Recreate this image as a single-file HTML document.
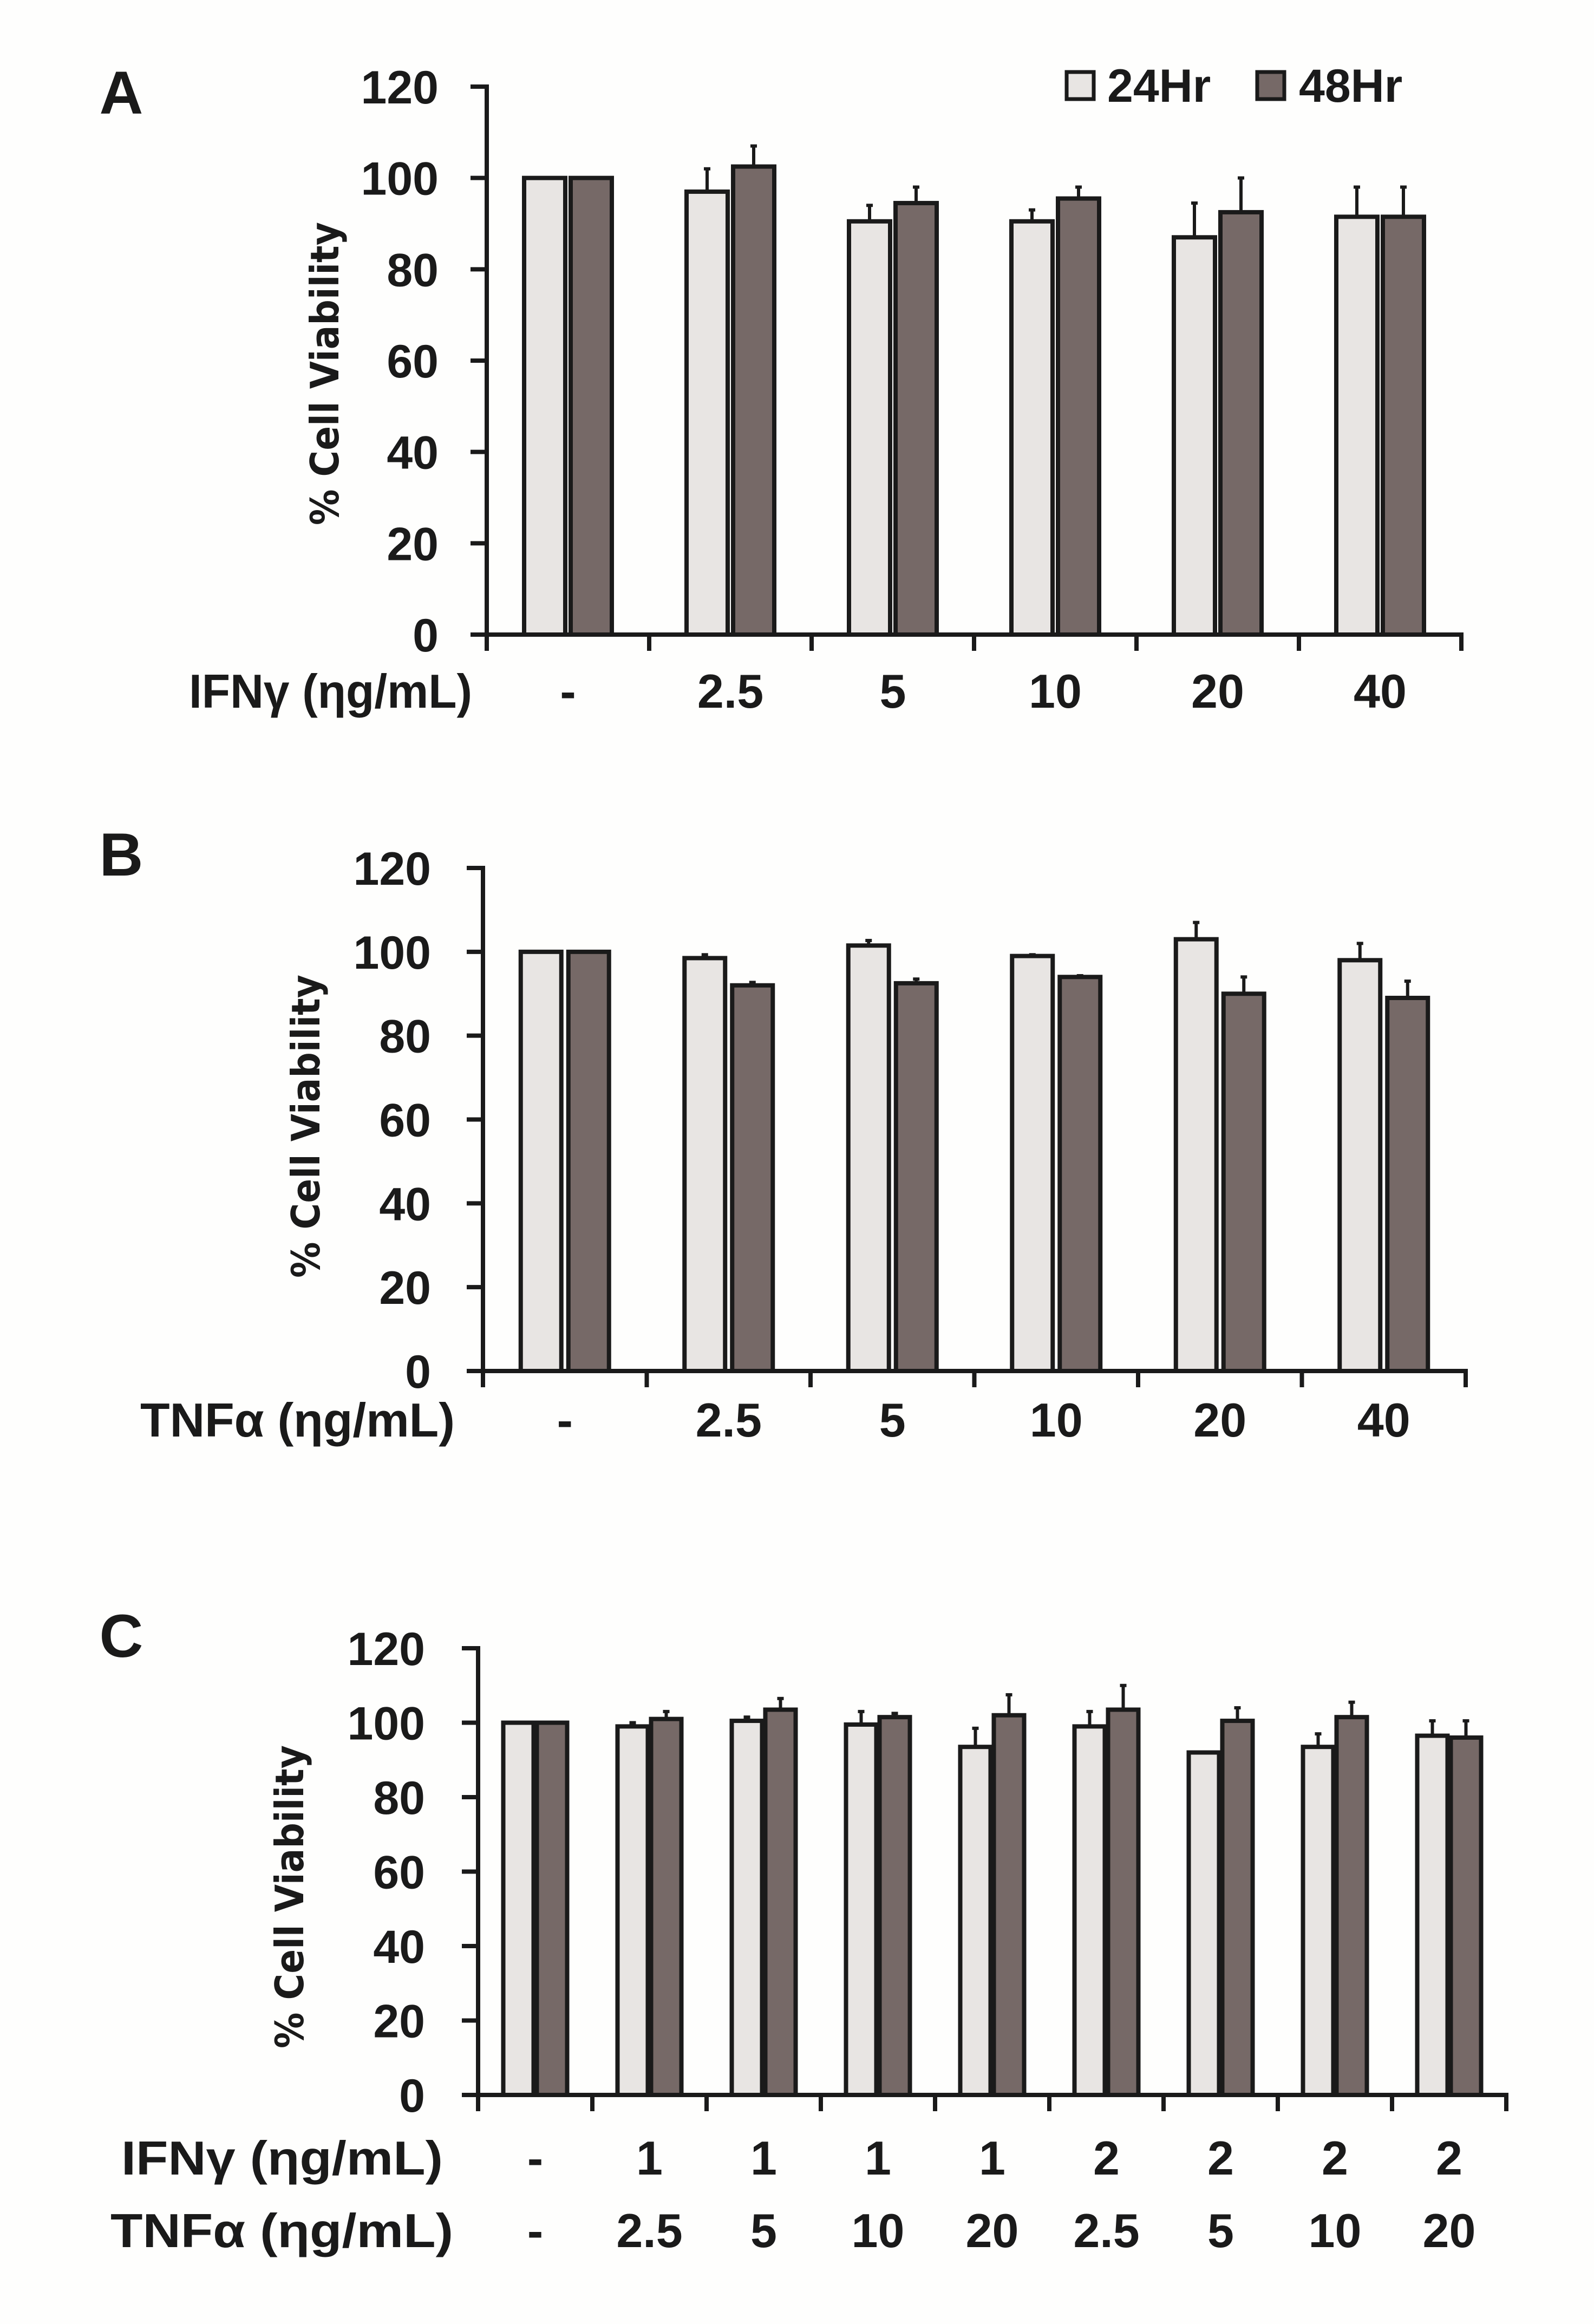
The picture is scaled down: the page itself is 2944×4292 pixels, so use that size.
<!DOCTYPE html>
<html><head><meta charset="utf-8">
<style>
html,body{margin:0;padding:0;background:#fefefd;}
svg{display:block;}
text{font-family:"Liberation Sans",sans-serif;font-weight:bold;fill:#1a1a1a;}
.yt{font-family:"DejaVu Sans","Liberation Sans",sans-serif;}
</style></head>
<body>
<svg id="fig" width="2944" height="4292" viewBox="0 0 2944 4292" xmlns="http://www.w3.org/2000/svg">
<rect x="0" y="0" width="2944" height="4292" fill="#fefefd"/>
</svg>
<script>
// Panel A data
const catsA = ["-","2.5","5","10","20","40"];
const a24 = [100,97,90.5,90.5,87,91.5];
const a24err = [0,5,3.5,2.5,7.5,6.5];
const a48 = [100,102.5,94.5,95.5,92.5,91.5];
const a48err = [0,4.5,3.5,2.5,7.5,6.5];
// Panel B data
const catsB = ["-","2.5","5","10","20","40"];
const b24 = [100,98.5,101.5,99,103,98];
const b24err = [0,0.8,1.2,0.3,4,4];
const b48 = [100,92,92.5,94,90,89];
const b48err = [0,0.7,1,0.3,4,4];
// Panel C data
const catsCifn = ["-","1","1","1","1","2","2","2","2"];
const catsCtnf = ["-","2.5","5","10","20","2.5","5","10","20"];
const c24 = [100,99,100.5,99.5,93.5,99,92,93.5,96.5];
const c24err = [0,1,1,3.5,5,4,0,3.5,4];
const c48 = [100,101,103.5,101.5,102,103.5,100.5,101.5,96];
const c48err = [0,2,3,1,5.5,6.5,3.5,4,4.5];
const yTicks = [0,20,40,60,80,100,120];

const NS="http://www.w3.org/2000/svg";
const svg=document.getElementById('fig');
function mk(tag,attrs,parent){const e=document.createElementNS(NS,tag);for(const k in attrs)e.setAttribute(k,attrs[k]);(parent||svg).appendChild(e);return e;}

function panel(cfg){
  const g=mk('g',{});
  
  
  const n=cfg.cats.length;
  const cw=(cfg.x1-cfg.x0)/n;
  const yS=v=>cfg.y0-(v/120)*(cfg.y0-cfg.y120);
  const xC=i=>cfg.x0+cw*(i+0.5);
  const series=[[cfg.s24,cfg.e24,'#e8e5e3',-1,'24hr'],[cfg.s48,cfg.e48,'#766967',1,'48hr']];
  series.forEach(s=>{
    s[0].forEach((v,i)=>{
      const cx=xC(i)+s[3]*cfg.off;
      const top=yS(v);
      if(s[1][i]>0){
        const et=yS(v+s[1][i]);
        const el=mk('line',{x1:cx,x2:cx,y1:top,y2:et,stroke:'#1a1a1a','stroke-width':6},g);
        
        
        const cap=mk('line',{x1:cx-6,x2:cx+6,y1:et,y2:et,stroke:'#1a1a1a','stroke-width':6},g);
        
        
      }
      const r=mk('rect',{x:cx-cfg.bw/2,y:top,width:cfg.bw,height:cfg.y0-top,fill:s[2],stroke:'#1a1a1a','stroke-width':8},g);
      
      
    });
  });
  const ya=mk('line',{x1:cfg.x0,x2:cfg.x0,y1:cfg.y120-4,y2:cfg.y0+30,stroke:'#1a1a1a','stroke-width':8},g);
  
  
  const xa=mk('line',{x1:cfg.x0-30,x2:cfg.x1+4,y1:cfg.y0,y2:cfg.y0,stroke:'#1a1a1a','stroke-width':8},g);
  
  
  yTicks.forEach(t=>{
    const y=yS(t);
    const tl=mk('line',{x1:cfg.x0-30,x2:cfg.x0,y1:y,y2:y,stroke:'#1a1a1a','stroke-width':8},g);
    
    
    const tx=mk('text',{x:cfg.tickX,y:y+31,'text-anchor':'end','font-size':86},g);
    tx.textContent=t;
    
    
  });
  for(let i=0;i<=n;i++){
    const x=cfg.x0+cw*i;
    const tl=mk('line',{x1:x,x2:x,y1:cfg.y0,y2:cfg.y0+30,stroke:'#1a1a1a','stroke-width':8},g);
    
    
  }
  cfg.rows.forEach(row=>{
    row.vals.forEach((v,i)=>{
      const tx=mk('text',{x:xC(i),y:row.y+31,'text-anchor':'middle','font-size':88},g);
      tx.textContent=v;
      
      
    });
    const lb=mk('text',{x:row.lx,y:row.y+31,'font-size':88,textLength:row.lw,lengthAdjust:'spacingAndGlyphs'},g);
    lb.textContent=row.label;
    
    
  });
  const yt=mk('text',{class:'yt',x:0,y:0,'text-anchor':'middle','font-size':72,textLength:560,lengthAdjust:'spacingAndGlyphs',transform:`translate(${cfg.ytX},${cfg.ytY}) rotate(-90)`},g);
  yt.textContent='% Cell Viability';
  
  
  const pl=mk('text',{x:cfg.lx,y:cfg.ly,'text-anchor':'middle','font-size':112},g);
  pl.textContent=cfg.id;
  
  
}

panel({id:'A',cats:catsA,s24:a24,e24:a24err,s48:a48,e48:a48err,x0:899,x1:2699,y0:1172,y120:160,bw:76,off:43,tickX:810,
  rows:[{y:1276,vals:catsA,label:'IFNγ (ηg/mL)',lx:349,lw:523}],ytX:625,ytY:690,lx:224,ly:210});
panel({id:'B',cats:catsB,s24:b24,e24:b24err,s48:b48,e48:b48err,x0:892,x1:2707,y0:2532,y120:1603,bw:75,off:44,tickX:796,
  rows:[{y:2622,vals:catsB,label:'TNFα (ηg/mL)',lx:259,lw:581}],ytX:590,ytY:2080,lx:224,ly:1617});
panel({id:'C',cats:catsCifn,s24:c24,e24:c24err,s48:c48,e48:c48err,x0:883,x1:2782,y0:3869,y120:3044,bw:56,off:31,tickX:785,
  rows:[{y:3985,vals:catsCifn,label:'IFNγ (ηg/mL)',lx:224,lw:594},{y:4119,vals:catsCtnf,label:'TNFα (ηg/mL)',lx:204,lw:633}],ytX:560,ytY:3503,lx:224,ly:3060});

const lg=mk('g',{});


const s1=mk('rect',{x:1970,y:133,width:50,height:50,fill:'#e8e5e3',stroke:'#1a1a1a','stroke-width':7},lg);


const t1=mk('text',{x:2045,y:188,'font-size':86},lg);
t1.textContent='24Hr';


const s2=mk('rect',{x:2322,y:133,width:50,height:50,fill:'#766967',stroke:'#1a1a1a','stroke-width':7},lg);


const t2=mk('text',{x:2399,y:188,'font-size':86},lg);
t2.textContent='48Hr';


</script>
</body></html>
